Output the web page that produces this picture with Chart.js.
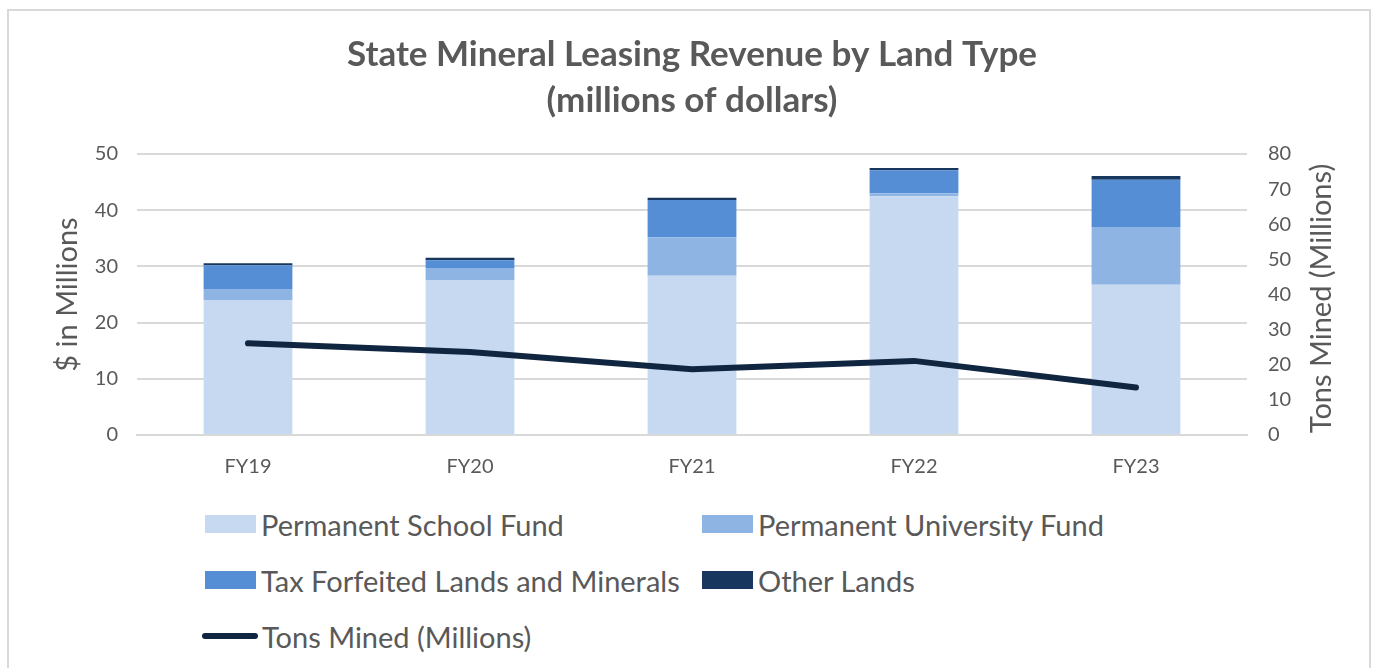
<!DOCTYPE html>
<html>
<head>
<meta charset="utf-8">
<script src="https://cdn.jsdelivr.net/npm/chart.js@4"></script>
<style>
  body { margin: 0; background: #fff; width: 1376px; height: 668px; overflow: hidden; position: relative; font-family: Lato, "Open Sans", sans-serif; }
  #frame { position: absolute; left: 7px; top: 9px; width: 1364px; height: 700px; border: 2px solid #d9d9d9; box-sizing: border-box; }
  #wrap { position: absolute; left: 0; top: 0; width: 1376px; height: 490px; }
  #legend { position: absolute; left: 202px; top: 496px; display: grid; grid-template-columns: 497px 500px; grid-auto-rows: 56px; color: #595959; font-size: 29px; }
  #legend .item { display: flex; align-items: center; white-space: nowrap; }
  #legend .sw { display: inline-block; width: 51px; height: 18px; margin: 0 5px 0 3px; }
  #legend .ln { display: inline-block; width: 56px; height: 6px; border-radius: 3px; margin: 0 4px 0 0; }
</style>
</head>
<body>
<div id="frame"></div>
<div id="wrap"><canvas id="mineralChart"></canvas></div>
<div id="legend"></div>
<script>
const years = ['FY19', 'FY20', 'FY21', 'FY22', 'FY23'];
const schoolFund = [24.0, 27.6, 28.35, 42.5, 26.75];
const universityFund = [2.0, 2.1, 6.85, 0.5, 10.25];
const taxForfeited = [4.2, 1.4, 6.6, 4.1, 8.4];
const otherLands = [0.35, 0.45, 0.4, 0.4, 0.7];
const tonsMined = [26.1, 23.6, 18.7, 21.1, 13.5];

const grey = '#595959';
const gridGrey = '#d9d9d9';
const rightTitle = 'Tons Mined (Millions)';

function bar(label, data, color) {
    return { type: 'bar', label: label, data: data, backgroundColor: color, yAxisID: 'y',
             stack: 'rev', order: 2, categoryPercentage: 0.8, barPercentage: 0.5 };
}

// right axis title reads bottom-to-top, like the left one
const rightTitlePlugin = {
    id: 'rightTitle',
    afterDraw: function(chart) {
        const s = chart.scales.y1;
        const c = chart.ctx;
        c.save();
        c.translate(1322, (s.top + s.bottom) / 2 + 4);
        c.rotate(-Math.PI / 2);
        c.fillStyle = grey;
        c.font = '29px Lato';
        c.textAlign = 'center';
        c.textBaseline = 'middle';
        c.fillText(rightTitle, 0, 0);
        c.restore();
    }
};

const ctx = document.getElementById('mineralChart').getContext('2d');
const chart = new Chart(ctx, {
    data: {
        labels: years,
        datasets: [
            bar('Permanent School Fund', schoolFund, '#c6d9f1'),
            bar('Permanent University Fund', universityFund, '#8eb4e3'),
            bar('Tax Forfeited Lands and Minerals', taxForfeited, '#558ed5'),
            bar('Other Lands', otherLands, '#17375e'),
            {
                type: 'line', label: rightTitle, data: tonsMined, yAxisID: 'y1',
                borderColor: '#10253f', backgroundColor: '#10253f', borderWidth: 6,
                pointRadius: 0, tension: 0, order: 0, borderCapStyle: 'round'
            }
        ]
    },
    options: {
        responsive: true,
        maintainAspectRatio: false,
        animation: false,
        layout: { padding: { left: 8, right: 0, top: 0, bottom: 0 } },
        plugins: {
            legend: { display: false },
            tooltip: { enabled: false },
            title: {
                display: true,
                text: ['State Mineral Leasing Revenue by Land Type', '(millions of dollars)'],
                color: grey,
                font: { family: 'Lato', size: 35, weight: 'bold', lineHeight: 1.3 },
                padding: { top: 32, bottom: 31 }
            }
        },
        scales: {
            x: {
                stacked: true,
                grid: { display: false, drawTicks: false },
                border: { display: true, color: gridGrey, width: 2 },
                ticks: { color: grey, font: { family: 'Lato', size: 20 }, padding: 20 },
                afterFit: function(scale) { scale.height = 55; }
            },
            y: {
                stacked: true,
                position: 'left',
                min: 0, max: 50,
                ticks: { stepSize: 10, color: grey, font: { family: 'Lato', size: 20 }, padding: 19 },
                grid: { color: gridGrey, lineWidth: 2, drawTicks: false },
                border: { display: false },
                title: { display: true, text: '$ in Millions', color: grey,
                         font: { family: 'Lato', size: 29 }, padding: { top: 42, bottom: 0 } },
                afterFit: function(scale) { scale.width = 137 - 8; }
            },
            y1: {
                position: 'right',
                min: 0, max: 80,
                ticks: { stepSize: 10, color: grey, font: { family: 'Lato', size: 20 }, padding: 21 },
                grid: { display: false, drawTicks: false },
                border: { display: false },
                afterFit: function(scale) { scale.width = 1376 - 1247; }
            }
        }
    },
    plugins: [rightTitlePlugin]
});

// legend laid out like the original: two columns, three rows
const legendBox = document.getElementById('legend');
chart.data.datasets.forEach(function(ds) {
    const item = document.createElement('div');
    item.className = 'item';
    const mark = document.createElement('span');
    mark.className = ds.type === 'line' ? 'ln' : 'sw';
    mark.style.background = ds.type === 'line' ? ds.borderColor : ds.backgroundColor;
    item.appendChild(mark);
    item.appendChild(document.createTextNode(ds.label));
    legendBox.appendChild(item);
});
</script>
</body>
</html>
